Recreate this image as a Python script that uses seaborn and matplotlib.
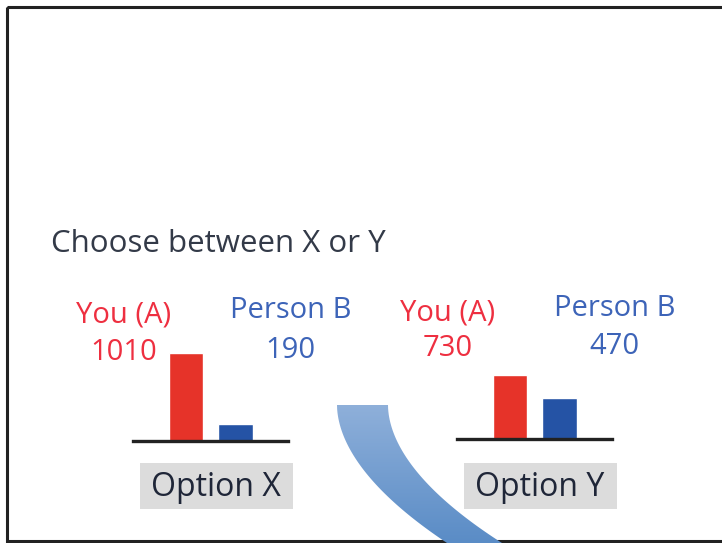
import numpy as np
import pandas as pd
import matplotlib.pyplot as plt
import seaborn as sns
from matplotlib.patches import Rectangle, Polygon

sns.set_theme(style="white")
plt.rcParams['font.family'] = ['Open Sans', 'DejaVu Sans']

# data
options = ["Option X", "Option Y"]
players = ["You (A)", "Person B"]
you_vals = [1010, 730]
person_b_vals = [190, 470]
title_text = "Choose between X or Y"

df = pd.DataFrame({
    "option": np.repeat(options, 2),
    "player": players * 2,
    "value": [v for pair in zip(you_vals, person_b_vals) for v in pair],
})

bar_colors = {"You (A)": "#e63329", "Person B": "#2553a5"}
text_colors = {"You (A)": "#ee2f40", "Person B": "#3d64b8"}

W, H = 722, 543
fig = plt.figure(figsize=(W / 100, H / 100), dpi=100)
ax0 = fig.add_axes([0, 0, 1, 1])
ax0.set_xlim(0, W)
ax0.set_ylim(H, 0)
ax0.axis("off")

# frame
ax0.add_patch(Rectangle((7, 7), 730, 534, fill=False, lw=2.2, ec="#222222"))

ax0.text(51, 244, title_text, fontsize=22.5, color="#333a48", va="center", ha="left")

# curved arrow (gradient band)
t = np.linspace(0, 1, 60)
outer = np.column_stack([337 + 110 * t ** 1.6, 405 + 138 * t ** 0.85])
inner = np.column_stack([388 + 114 * t ** 1.7, 405 + 138 * t ** 0.9])
band = np.vstack([outer, inner[::-1]])
poly = Polygon(band, closed=True, fc="none", ec="none")
ax0.add_patch(poly)
grad = np.linspace(0, 1, 256).reshape(-1, 1)
cmap = sns.blend_palette(["#8fb0da", "#5a8cc6"], as_cmap=True)
im = ax0.imshow(grad, cmap=cmap, extent=[330, 510, 543, 404], aspect="auto", zorder=1)
im.set_clip_path(poly)
ax0.set_xlim(0, W)
ax0.set_ylim(H, 0)

spacing = 49.5
chart_left = [133, 457]
baselines = [441, 439]
lab_y = [(315, 311), (313, 308)]
num_y = [(352, 350), (349, 347)]
scale = 0.087  # px per unit

for i, opt in enumerate(options):
    sub = df[df["option"] == opt]
    x0 = chart_left[i]
    base = baselines[i]
    h_px = 1200 * scale
    ax = fig.add_axes([x0 / W, (H - base) / H, 155 / W, h_px / H])
    sns.barplot(data=sub, x="player", y="value", hue="player", palette=bar_colors,
                width=0.69, ax=ax, legend=False, saturation=1)
    ax.set_xlim(-1.07, -1.07 + 155 / spacing)
    ax.set_ylim(0, 1200)
    ax.patch.set_alpha(0)
    for s in ["top", "left", "right"]:
        ax.spines[s].set_visible(False)
    ax.spines["bottom"].set_color("#222222")
    ax.spines["bottom"].set_linewidth(2.4)
    ax.set_xticks([])
    ax.set_yticks([])
    ax.set_xlabel("")
    ax.set_ylabel("")

    # labels above bars
    red_c = x0 + 53 - 62
    blue_c = x0 + 53 + spacing + 55
    for j, (cx, p) in enumerate([(red_c, "You (A)"), (blue_c, "Person B")]):
        val = sub.loc[sub["player"] == p, "value"].iloc[0]
        ax0.text(cx, lab_y[i][j], p, color=text_colors[p], fontsize=21,
                 ha="center", va="center")
        ax0.text(cx, num_y[i][j], f"{val}", color=text_colors[p], fontsize=21,
                 ha="center", va="center")

    # option box
    ax0.add_patch(Rectangle((x0 + 7, 463), 153, 46, fc="#dcdcdc", ec="none"))
    ax0.text(x0 + 7 + 76, 487, opt, fontsize=23, color="#1f2638",
             ha="center", va="center")

fig.savefig("out.png", dpi=100)
